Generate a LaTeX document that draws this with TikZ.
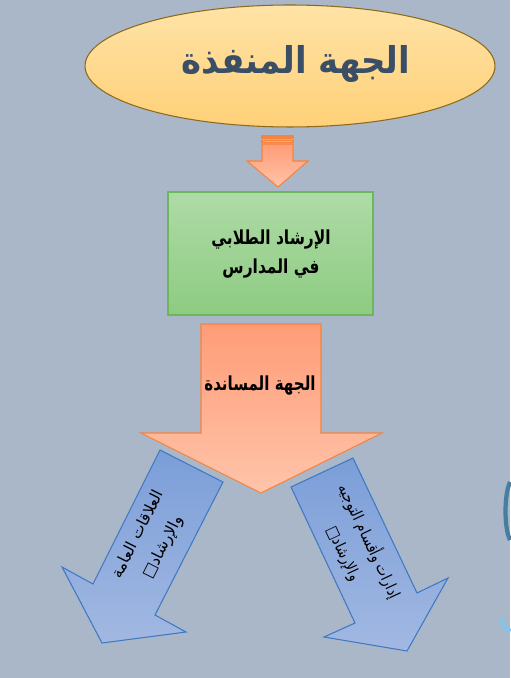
\documentclass[tikz,border=0pt]{standalone}
\usepackage{fontspec}
\usepackage{graphicx}
\newfontfamily\arabicfont[Script=Arabic]{DejaVu Sans}
\TeXXeTstate=1
\usetikzlibrary{shapes.geometric}

\definecolor{bgGray}{RGB}{169,183,200}
\definecolor{ovalTop}{RGB}{255,227,166}
\definecolor{ovalBot}{RGB}{255,208,120}
\definecolor{ovalLine}{RGB}{140,106,28}
\definecolor{ovalText}{RGB}{58,78,102}
\definecolor{salmonTop}{RGB}{255,156,119}
\definecolor{salmonBot}{RGB}{255,196,170}
\definecolor{salmonLine}{RGB}{244,132,63}
\definecolor{greenTop}{RGB}{174,219,166}
\definecolor{greenBot}{RGB}{142,203,130}
\definecolor{greenLine}{RGB}{107,184,92}
\definecolor{blueTop}{RGB}{123,158,216}
\definecolor{blueBot}{RGB}{162,184,226}
\definecolor{blueLine}{RGB}{63,120,196}
\definecolor{logoTeal}{RGB}{70,125,160}
\definecolor{logoCyan}{RGB}{120,200,240}

\begin{document}
\begin{tikzpicture}[x=0.02cm, y=-0.02cm, line width=0.6pt,
    % --- 样式定义 ---
    top_oval/.style={ellipse, draw=ovalLine, top color=ovalTop, bottom color=ovalBot,
        minimum width=8.2cm, minimum height=2.44cm, inner sep=0pt},
    school_box/.style={rectangle, draw=greenLine, top color=greenTop, bottom color=greenBot,
        minimum width=4.1cm, minimum height=2.46cm, inner sep=0pt},
    salmon_arrow/.style={draw=salmonLine, top color=salmonTop, bottom color=salmonBot},
    blue_arrow/.style={draw=blueLine, top color=blueTop, bottom color=blueBot, line join=miter},
    % 文字样式
    big_label/.style={font=\arabicfont\bfseries\fontsize{21}{26}\selectfont, text=ovalText},
    box_label/.style={font=\arabicfont\bfseries\fontsize{11}{16}\selectfont, align=center},
    side_label/.style={font=\arabicfont\fontsize{9}{16}\selectfont, align=center}
]
    % 背景 (固定边界)
    \fill[bgGray] (0,0) rectangle (510,678);
    \useasboundingbox (0,0) rectangle (510,678);

    % =========================================
    % 【1】 顶部椭圆: 执行部门
    % =========================================
    \node[top_oval] (exec) at (290,66) {};
    \node[big_label] (exec_txt) at (296,64)
        {\scalebox{0.92}[1]{\beginR الجهة المنفذة\endR}};

    % =========================================
    % 【2】 条纹箭头 (椭圆 -> 绿框)
    % =========================================
    \draw[salmon_arrow] (262,136) rectangle (293,138);
    \draw[salmon_arrow] (262,140.5) rectangle (293,142.5);
    \draw[salmon_arrow] (262,144) -- (293,144) -- (293,161) -- (308,161)
        -- (278,187) -- (247,161) -- (262,161) -- cycle;

    % =========================================
    % 【3】 绿框: 学校里的学生辅导
    % =========================================
    \node[school_box] (school) at (270.5,253.5) {};
    \node[box_label] (school_txt) at (271,254)
        {\scalebox{0.8}[1]{\beginR الإرشاد الطلابي\endR}\\
         \scalebox{0.8}[1]{\beginR في المدارس\endR}};

    % =========================================
    % 【4】 大箭头: 支持部门
    % =========================================
    \coordinate (big_tip) at (261,493);
    \draw[salmon_arrow] (201,324) -- (321,324) -- (321,433) -- (382,433)
        -- (big_tip) -- (141,433) -- (201,433) -- cycle;
    \node[box_label] (support) at (260,386)
        {\scalebox{0.78}[1]{\beginR الجهة المساندة\endR}};

    % =========================================
    % 【5】 左下蓝箭头 / 右下蓝箭头
    % =========================================
    \draw[blue_arrow] (160,450) -- (223,482) -- (155,615) -- (186,632)
        -- (102,643) -- (62,567) -- (93,584) -- cycle;
    \node[side_label, rotate=63.4] (pr) at (151,541)
        {\beginR العلاقات العامة\endR\\ \beginR والإرشاد□\endR};

    \draw[blue_arrow] (291,487) -- (353,458) -- (417,593) -- (448,578)
        -- (407,651) -- (324,637) -- (355,623) -- cycle;
    \node[side_label, rotate=-64.8] (dept) at (357,547)
        {\scalebox{0.85}[1]{\beginR إدارات وأقسام التوجيه\endR}\\
         \scalebox{0.85}[1]{\beginR والإرشاد□\endR}};

    % --- 右侧边缘的残缺图标 ---
    \draw[line width=2.4pt, color=logoTeal] (510,482) .. controls (504,495) and (504,528) .. (510,540);
    \draw[line width=2pt, color=logoCyan, line cap=round] (502,618) .. controls (502,628) and (506,630) .. (510,630);

\end{tikzpicture}
\end{document}
